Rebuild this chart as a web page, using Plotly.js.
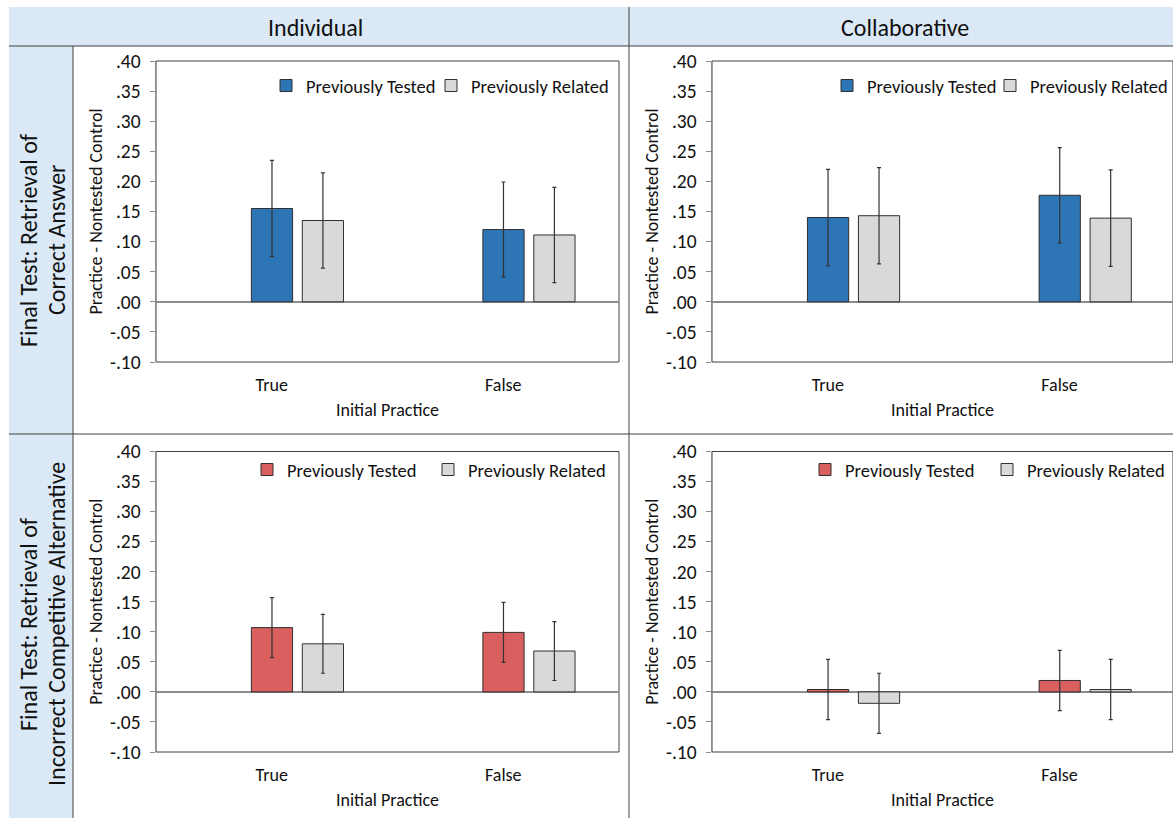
<!DOCTYPE html>
<html>
<head>
<meta charset="utf-8">
<script src="https://cdn.plot.ly/plotly-3.0.1.min.js"></script>
<style>html,body{margin:0;padding:0;background:#fff;}#chart{width:1173px;height:818px;}</style>
</head>
<body>
<div id="chart"></div>
<script>
// ---- data ----
const categories = ['True', 'False'];
const seriesNames = ['Previously Tested', 'Previously Related'];
const columnLabels = ['Individual', 'Collaborative'];
const rowLabelsTop = ['Final Test: Retrieval of', 'Correct Answer'];
const rowLabelsBottom = ['Final Test: Retrieval of', 'Incorrect Competitive Alternative'];
const yTitle = 'Practice - Nontested Control';
const xTitle = 'Initial Practice';
const yTickVals = [-0.10, -0.05, 0.00, 0.05, 0.10, 0.15, 0.20, 0.25, 0.30, 0.35, 0.40];
const yTickText = ['-.10', '-.05', '.00', '.05', '.10', '.15', '.20', '.25', '.30', '.35', '.40'];

// Correct answer (top row)
const indTestedCorrect = [0.155, 0.120];
const indTestedCorrectErr = [0.080, 0.079];
const indRelatedCorrect = [0.135, 0.111];
const indRelatedCorrectErr = [0.079, 0.079];
const colTestedCorrect = [0.140, 0.177];
const colTestedCorrectErr = [0.080, 0.079];
const colRelatedCorrect = [0.143, 0.139];
const colRelatedCorrectErr = [0.080, 0.080];

// Incorrect competitive alternative (bottom row)
const indTestedIncorrect = [0.107, 0.099];
const indTestedIncorrectErr = [0.050, 0.050];
const indRelatedIncorrect = [0.080, 0.068];
const indRelatedIncorrectErr = [0.049, 0.049];
const colTestedIncorrect = [0.004, 0.019];
const colTestedIncorrectErr = [0.050, 0.050];
const colRelatedIncorrect = [-0.019, 0.004];
const colRelatedIncorrectErr = [0.050, 0.050];

// ---- styling ----
const W = 1173, H = 818;
const px = v => v / W;
const py = v => 1 - v / H;
const FONT = 'Carlito, Lato, sans-serif';
const TXT = '#111111';
const BLUE = '#2E75B6', RED = '#D9605E', GRAY = '#D9D9D9';
const EDGE = '#303030';
const AX = '#8c8c8c';
const BAND = '#DAE9F5';
const LINE = '#404040';

const OFF1 = -0.088, OFF2 = 0.132, BW = 0.178;

function bar(name, x, y, err, color, xa, ya, legend, off) {
  return {
    type: 'bar', name: name, x: x, y: y,
    xaxis: xa, yaxis: ya, legend: legend, showlegend: true,
    offset: off, width: BW,
    marker: {color: color, line: {color: EDGE, width: 1}},
    error_y: {type: 'data', array: err, visible: true, color: '#333333', thickness: 1.2, width: 2},
    hoverinfo: 'y'
  };
}

const traces = [
  bar(seriesNames[0], categories, indTestedCorrect, indTestedCorrectErr, BLUE, 'x', 'y', 'legend', OFF1),
  bar(seriesNames[1], categories, indRelatedCorrect, indRelatedCorrectErr, GRAY, 'x', 'y', 'legend2', OFF2),
  bar(seriesNames[0], categories, colTestedCorrect, colTestedCorrectErr, BLUE, 'x2', 'y2', 'legend3', OFF1),
  bar(seriesNames[1], categories, colRelatedCorrect, colRelatedCorrectErr, GRAY, 'x2', 'y2', 'legend4', OFF2),
  bar(seriesNames[0], categories, indTestedIncorrect, indTestedIncorrectErr, RED, 'x3', 'y3', 'legend5', OFF1),
  bar(seriesNames[1], categories, indRelatedIncorrect, indRelatedIncorrectErr, GRAY, 'x3', 'y3', 'legend6', OFF2),
  bar(seriesNames[0], categories, colTestedIncorrect, colTestedIncorrectErr, RED, 'x4', 'y4', 'legend7', OFF1),
  bar(seriesNames[1], categories, colRelatedIncorrect, colRelatedIncorrectErr, GRAY, 'x4', 'y4', 'legend8', OFF2)
];

function xaxis(domain, anchor, range) {
  return {
    domain: domain, anchor: anchor, type: 'category', categoryarray: categories,
    range: range, showline: false, ticks: '', showgrid: false, zeroline: false,
    tickfont: {family: FONT, size: 18, color: TXT}, ticklabelstandoff: 10,
    title: {text: xTitle, font: {family: FONT, size: 18, color: TXT}, standoff: 8},
    fixedrange: true
  };
}
function yaxis(domain, anchor) {
  return {
    domain: domain, anchor: anchor, range: [-0.1, 0.4],
    tickmode: 'array', tickvals: yTickVals, ticktext: yTickText,
    ticks: 'outside', ticklen: 5, tickcolor: AX, tickwidth: 1,
    showline: true, linecolor: AX, linewidth: 1.5,
    showgrid: false, zeroline: true, zerolinecolor: AX, zerolinewidth: 1.5,
    tickfont: {family: FONT, size: 19.5, color: TXT}, ticklabelstandoff: 5,
    title: {text: yTitle, font: {family: FONT, size: 18, color: TXT}, standoff: 2},
    fixedrange: true
  };
}

const xL = [px(156), px(619)], xR = [px(712), 1];
const yT = [py(362), py(61)], yB = [py(752), py(451.5)];

// legend item start so that the swatch sits near the reference swatch
function legendAt(swatchX, y) {
  return {orientation: 'h', x: px(swatchX - 26), y: py(y), xanchor: 'left', yanchor: 'middle',
    bgcolor: 'rgba(0,0,0,0)', borderwidth: 0, visible: true,
    font: {family: FONT, size: 18.5, color: TXT}};
}

function frame(xa, ya) {
  return {type: 'rect', xref: xa + ' domain', yref: ya + ' domain', x0: 0, x1: 1, y0: 0, y1: 1,
    line: {color: LINE, width: 1}, fillcolor: 'rgba(0,0,0,0)', layer: 'below'};
}
function pline(x0, y0, x1, y1) {
  return {type: 'line', xref: 'paper', yref: 'paper', x0: px(x0), y0: py(y0), x1: px(x1), y1: py(y1),
    line: {color: LINE, width: 1}, layer: 'below'};
}
function prect(x0, y0, x1, y1, color) {
  return {type: 'rect', xref: 'paper', yref: 'paper', x0: px(x0), y0: py(y0), x1: px(x1), y1: py(y1),
    line: {width: 0}, fillcolor: color, layer: 'below'};
}
function label(text, x, y, size, angle) {
  return {text: text, xref: 'paper', yref: 'paper', x: px(x), y: py(y), showarrow: false,
    textangle: angle || 0, xanchor: 'center', yanchor: 'middle',
    font: {family: FONT, size: size, color: TXT}};
}

const layout = {
  width: W, height: H,
  margin: {l: 0, r: 0, t: 0, b: 0, pad: 0},
  paper_bgcolor: '#ffffff', plot_bgcolor: 'rgba(0,0,0,0)',
  barmode: 'group',
  showlegend: true,
  font: {family: FONT, color: TXT},
  xaxis: xaxis(xL, 'y', [-0.5, 1.5]),
  yaxis: yaxis(yT, 'x'),
  xaxis2: xaxis(xR, 'y2', [-0.5, 1.49]),
  yaxis2: yaxis(yT, 'x2'),
  xaxis3: xaxis(xL, 'y3', [-0.5, 1.5]),
  yaxis3: yaxis(yB, 'x3'),
  xaxis4: xaxis(xR, 'y4', [-0.5, 1.49]),
  yaxis4: yaxis(yB, 'x4'),
  legend: legendAt(292, 86),
  legend2: legendAt(457, 86),
  legend3: legendAt(853, 86),
  legend4: legendAt(1016, 86),
  legend5: legendAt(273, 470),
  legend6: legendAt(454, 470),
  legend7: legendAt(831, 470),
  legend8: legendAt(1013, 470),
  shapes: [
    prect(9, 7, W, 46, BAND),
    prect(9, 46, 73, H, BAND),
    pline(9, 46, W, 46),
    pline(73, 46, 73, H),
    pline(629, 7, 629, H),
    pline(9, 434, W, 434),
    frame('x', 'y'), frame('x2', 'y2'), frame('x3', 'y3'), frame('x4', 'y4')
  ],
  annotations: [
    label(columnLabels[0], 315, 27, 24),
    label(columnLabels[1], 905, 27, 24),
    label(rowLabelsTop[0], 28, 240, 24, -90),
    label(rowLabelsTop[1], 56, 240, 24, -90),
    label(rowLabelsBottom[0], 28, 624, 24, -90),
    label(rowLabelsBottom[1], 56, 624, 24, -90)
  ]
};

Plotly.newPlot('chart', traces, layout, {displayModeBar: false, staticPlot: true});
</script>
</body>
</html>
